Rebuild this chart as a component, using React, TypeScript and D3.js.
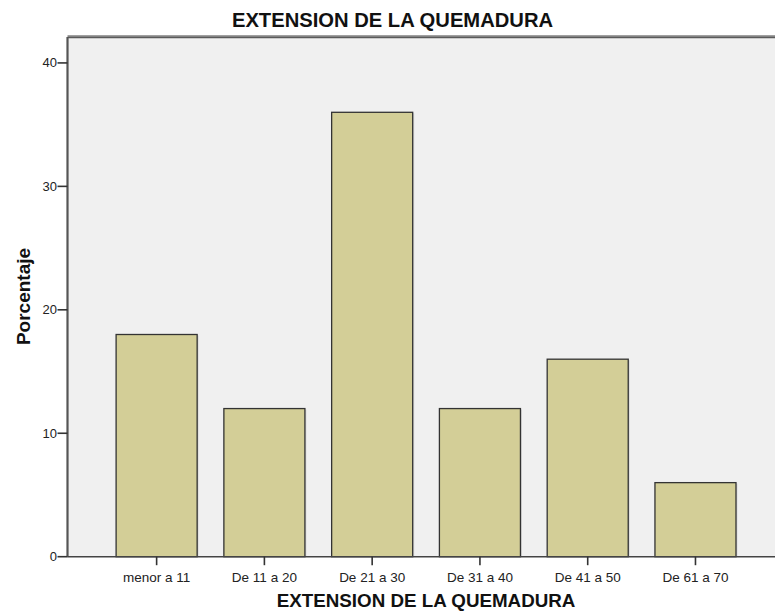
import React from "react";
import * as d3 from "d3";

const categories = ["menor a 11", "De 11 a 20", "De 21 a 30", "De 31 a 40", "De 41 a 50", "De 61 a 70"];
const values = [18, 12, 36, 12, 16, 6];
const yTicks = [0, 10, 20, 30, 40];
const title = "EXTENSION DE LA QUEMADURA";
const xTitle = "EXTENSION DE LA QUEMADURA";
const yTitle = "Porcentaje";

const W = 775;
const H = 614;
const left = 67.5;
const right = 784.6;
const top = 37;
const bottom = 556.7;
const yMax = 42.1;

export default function App() {
  const x = d3.scaleBand<string>().domain(categories).range([left, right]).paddingInner(0.248).paddingOuter(0.451);
  const y = d3.scaleLinear().domain([0, yMax]).range([bottom, top]);
  const font = "Arial, 'Liberation Sans', sans-serif";
  const cx = (left + right) / 2;
  return (
    <svg width={W} height={H} style={{ position: "absolute", left: 0, top: 0, background: "#fff" }} fontFamily={font}>
      <rect x={left} y={top} width={right - left} height={bottom - top} fill="#f0f0f0" />
      <line x1={left} x2={W} y1={35.5} y2={35.5} stroke="#a0a0a0" strokeWidth={1} />
      <line x1={left} x2={W} y1={37.2} y2={37.2} stroke="#5a5a5a" strokeWidth={2} />
      {categories.map((c, i) => (
        <g key={c}>
          <rect x={(x(c) as number) + 1.5} y={y(values[i]) + 1} width={x.bandwidth()} height={bottom - y(values[i]) - 1} fill="#c8c8c8" opacity={0.6} />
          <rect x={x(c)} y={y(values[i])} width={x.bandwidth()} height={bottom - y(values[i])} fill="#d3ce97" stroke="#333" strokeWidth={1.3} />
        </g>
      ))}
      <line x1={left} x2={left} y1={top} y2={bottom} stroke="#555" strokeWidth={2.2} />
      <line x1={left} x2={W} y1={bottom} y2={bottom} stroke="#444" strokeWidth={1.6} />
      {yTicks.map((t) => (
        <g key={t}>
          <line x1={left - 10} x2={left} y1={y(t)} y2={y(t)} stroke="#333" strokeWidth={1.6} />
          <text x={left - 10.5} y={y(t)} dy="0.35em" textAnchor="end" fontSize={13} fill="#222">{t}</text>
        </g>
      ))}
      {categories.map((c) => {
        const xc = (x(c) as number) + x.bandwidth() / 2;
        return (
          <g key={c}>
            <line x1={xc} x2={xc} y1={bottom} y2={bottom + 8.5} stroke="#333" strokeWidth={1.6} />
            <text x={xc} y={581.5} textAnchor="middle" fontSize={13.5} fill="#222">{c}</text>
          </g>
        );
      })}
      <text x={392.5} y={27} textAnchor="middle" fontSize={20.2} fontWeight="bold" fill="#111">{title}</text>
      <text x={cx} y={606.7} textAnchor="middle" fontSize={18.8} fontWeight="bold" fill="#111">{xTitle}</text>
      <text transform={`translate(29.5, ${296.5}) rotate(-90)`} textAnchor="middle" fontSize={19} fontWeight="bold" fill="#111">{yTitle}</text>
    </svg>
  );
}
